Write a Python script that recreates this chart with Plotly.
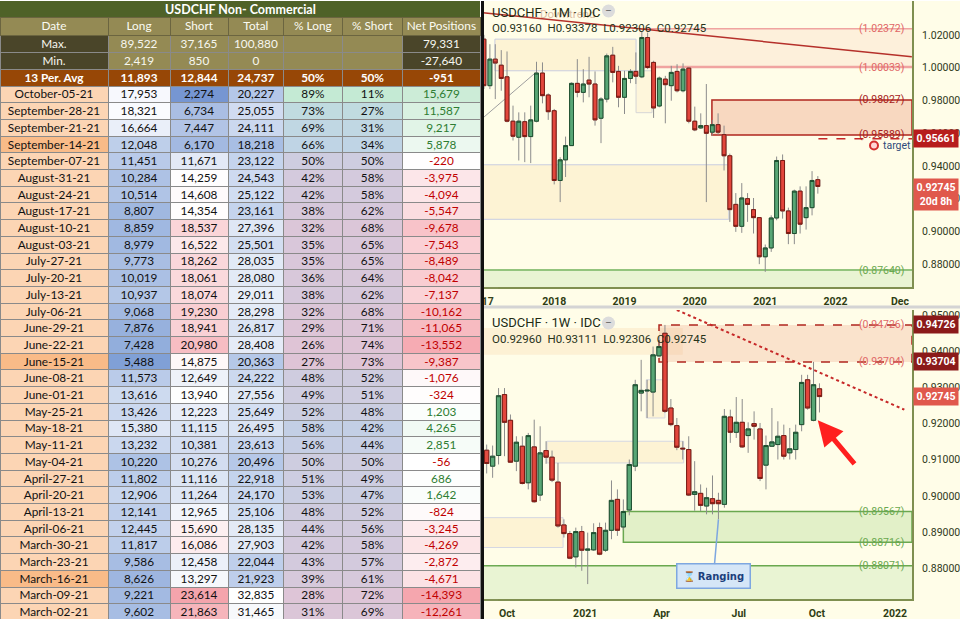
import plotly.graph_objects as go

W, H = 960, 620

# ================= COT table data =================
TABLE_TITLE = "USDCHF Non- Commercial"
COLUMNS = ["Date", "Long", "Short", "Total", "% Long", "% Short", "Net Positions"]
max_values = [89522, 37165, 100880, None, None, 79331]
min_values = [2419, 850, 0, None, None, -27640]
avg_label = "13 Per. Avg"
avg_values = [11893, 12844, 24737, 50, 50, -951]

report_dates = [
    "October-05-21", "September-28-21", "September-21-21", "September-14-21", "September-07-21",
    "August-31-21", "August-24-21", "August-17-21", "August-10-21", "August-03-21",
    "July-27-21", "July-20-21", "July-13-21", "July-06-21", "June-29-21", "June-22-21", "June-15-21",
    "June-08-21", "June-01-21", "May-25-21", "May-18-21", "May-11-21", "May-04-21",
    "April-27-21", "April-20-21", "April-13-21", "April-06-21",
    "March-30-21", "March-23-21", "March-16-21", "March-09-21", "March-02-21"]
long_pos = [17953, 18321, 16664, 12048, 11451, 10284, 10514, 8807, 8859, 8979,
            9773, 10019, 10937, 9068, 7876, 7428, 5488, 11573, 13616, 13426, 15380, 13232, 10220,
            11802, 12906, 12141, 12445, 11817, 9586, 8626, 9221, 9602]
short_pos = [2274, 6734, 7447, 6170, 11671, 14259, 14608, 14354, 18537, 16522,
             18262, 18061, 18074, 19230, 18941, 20980, 14875, 12649, 13940, 12223, 11115, 10381, 10276,
             11116, 11264, 12965, 15690, 16086, 12458, 13297, 23614, 21863]
total_pos = [20227, 25055, 24111, 18218, 23122, 24543, 25122, 23161, 27396, 25501,
             28035, 28080, 29011, 28298, 26817, 28408, 20363, 24222, 27556, 25649, 26495, 23613, 20496,
             22918, 24170, 25106, 28135, 27903, 22044, 21923, 32835, 31465]
pct_long = [89, 73, 69, 66, 50, 42, 42, 38, 32, 35, 35, 36, 38, 32, 29, 26, 27, 48, 49, 52, 58, 56, 50,
            51, 53, 48, 44, 42, 43, 39, 28, 31]
pct_short = [11, 27, 31, 34, 50, 58, 58, 62, 68, 65, 65, 64, 62, 68, 71, 74, 73, 52, 51, 48, 42, 44, 50,
             49, 47, 52, 56, 58, 57, 61, 72, 69]
net_pos = [15679, 11587, 9217, 5878, -220, -3975, -4094, -5547, -9678, -7543,
           -8489, -8042, -7137, -10162, -11065, -13552, -9387, -1076, -324, 1203, 4265, 2851, -56,
           686, 1642, -824, -3245, -4269, -2872, -4671, -14393, -12261]
highlight_dates = ["September-14-21", "June-15-21", "March-16-21"]

# ================= USDCHF monthly candles (1M) =================
month_dates = [f"{y}-{m:02d}-01" for y in range(2017, 2022) for m in range(1, 13)][:58]
m_open = [1.0174, 0.9890, 1.0052, 1.0015, 0.9944, 0.9673, 0.9575, 0.9670, 0.9579, 0.9673, 0.9967, 0.9833,
          0.9737, 0.9311, 0.9437, 0.9524, 0.9904, 0.9849, 0.9924, 0.9900, 0.9691, 0.9808, 1.0076, 0.9977,
          0.9819, 0.9934, 0.9977, 0.9944, 1.0184, 1.0032, 0.9766, 0.9930, 0.9890, 0.9977, 0.9859, 0.9997,
          0.9673, 0.9632, 0.9646, 0.9606, 0.9652, 0.9591, 0.9462, 0.9165, 0.9031, 0.9200, 0.9133, 0.9084,
          0.8845, 0.8899, 0.9082, 0.9433, 0.9125, 0.8987, 0.9246, 0.9084, 0.9145, 0.93160]
m_high = [1.0200, 1.0143, 1.0143, 1.0107, 1.0099, 0.9768, 0.9727, 0.9727, 0.9768, 1.0036, 1.0032, 0.9843,
          0.9748, 0.9453, 0.9579, 0.9910, 1.0052, 0.9991, 1.0066, 0.9977, 0.9819, 1.0086, 1.0127, 1.0011,
          0.9981, 0.9991, 1.0093, 1.0220, 1.0214, 1.0042, 0.9946, 0.9950, 1.0011, 1.0021, 1.0026, 1.0001,
          0.9762, 0.9721, 0.9900, 0.9681, 0.9721, 0.9646, 0.9475, 0.9234, 0.9295, 0.9234, 0.9204, 0.9088,
          0.8920, 0.9098, 0.9457, 0.9470, 0.9145, 0.9255, 0.9275, 0.9275, 0.9368, 0.93378]
m_low = [0.9870, 0.9869, 0.9808, 0.9859, 0.9666, 0.9555, 0.9433, 0.9423, 0.9417, 0.9666, 0.9782, 0.9681,
         0.9287, 0.9179, 0.9332, 0.9524, 0.9819, 0.9788, 0.9819, 0.9646, 0.9539, 0.9788, 0.9910, 0.9758,
         0.9717, 0.9905, 0.9900, 0.9936, 0.9991, 0.9693, 0.9758, 0.9660, 0.9798, 0.9849, 0.9849, 0.9660,
         0.9612, 0.9626, 0.9179, 0.9585, 0.9591, 0.9372, 0.9058, 0.8997, 0.8991, 0.9058, 0.8987, 0.8800,
         0.8753, 0.8875, 0.9068, 0.9078, 0.8922, 0.8922, 0.8987, 0.9011, 0.9098, 0.92306]
m_close = [0.9890, 1.0052, 1.0028, 0.9934, 0.9673, 0.9581, 0.9673, 0.9579, 0.9681, 0.9967, 0.9829, 0.9731,
           0.9311, 0.9437, 0.9524, 0.9904, 0.9849, 0.9900, 0.9900, 0.9681, 0.9808, 1.0072, 0.9971, 0.9819,
           0.9934, 0.9977, 0.9948, 1.0184, 1.0001, 0.9754, 0.9936, 0.9896, 0.9971, 0.9859, 0.9991, 0.9673,
           0.9620, 0.9646, 0.9599, 0.9652, 0.9606, 0.9462, 0.9133, 0.9031, 0.9204, 0.9165, 0.9084, 0.8845,
           0.8899, 0.9082, 0.9433, 0.9125, 0.8987, 0.9246, 0.9044, 0.9145, 0.9311, 0.92745]

# ================= USDCHF weekly candles (1W) =================
week_dates = ["2020-09-07", "2020-09-14", "2020-09-21", "2020-09-28", "2020-10-05", "2020-10-12",
              "2020-10-19", "2020-10-26", "2020-11-02", "2020-11-09", "2020-11-16", "2020-11-23",
              "2020-11-30", "2020-12-07", "2020-12-14", "2020-12-21", "2020-12-28", "2021-01-04",
              "2021-01-11", "2021-01-18", "2021-01-25", "2021-02-01", "2021-02-08", "2021-02-15",
              "2021-02-22", "2021-03-01", "2021-03-08", "2021-03-15", "2021-03-22", "2021-03-29",
              "2021-04-05", "2021-04-12", "2021-04-19", "2021-04-26", "2021-05-03", "2021-05-10",
              "2021-05-17", "2021-05-24", "2021-05-31", "2021-06-07", "2021-06-14", "2021-06-21",
              "2021-06-28", "2021-07-05", "2021-07-12", "2021-07-19", "2021-07-26", "2021-08-02",
              "2021-08-09", "2021-08-16", "2021-08-23", "2021-08-30", "2021-09-06", "2021-09-13",
              "2021-09-20", "2021-09-27", "2021-10-04"]
w_open = [0.91262, 0.90822, 0.91116, 0.92800, 0.92089, 0.90960, 0.91373, 0.90363, 0.91354, 0.90023,
          0.91253, 0.91070, 0.90381, 0.89197, 0.88958, 0.88315, 0.89013, 0.88499, 0.88508, 0.89123,
          0.88499, 0.89049, 0.89903, 0.89141, 0.89610, 0.90822, 0.92842, 0.92900, 0.92870, 0.93870,
          0.94495, 0.92429, 0.91942, 0.91318, 0.91281, 0.90041, 0.90070, 0.89720, 0.89922, 0.89876,
          0.89766, 0.92181, 0.91758, 0.92034, 0.91667, 0.91997, 0.91850, 0.90850, 0.91373, 0.91419,
          0.91667, 0.91190, 0.91281, 0.91970, 0.93209, 0.92089, 0.92960]
w_high = [0.91419, 0.91391, 0.92980, 0.92980, 0.92250, 0.91648, 0.91648, 0.91740, 0.92107, 0.91924,
          0.91511, 0.91253, 0.90914, 0.89352, 0.89031, 0.89123, 0.89169, 0.88985, 0.89242, 0.89261,
          0.89261, 0.90427, 0.90179, 0.89903, 0.91005, 0.93209, 0.93760, 0.93209, 0.94128, 0.94403,
          0.94726, 0.92677, 0.92153, 0.91511, 0.91648, 0.90960, 0.90317, 0.90225, 0.90565, 0.90087,
          0.92401, 0.92383, 0.92732, 0.92677, 0.92034, 0.92337, 0.92015, 0.91667, 0.92429, 0.92062,
          0.91970, 0.91878, 0.91970, 0.93347, 0.93347, 0.93704, 0.93111]
w_low = [0.90620, 0.90500, 0.90868, 0.91097, 0.90914, 0.90684, 0.90317, 0.90180, 0.89812, 0.89858,
         0.90886, 0.90381, 0.89123, 0.88848, 0.88251, 0.88021, 0.87929, 0.87562, 0.88480, 0.88361,
         0.88453, 0.88802, 0.88894, 0.89050, 0.89463, 0.90684, 0.92337, 0.92153, 0.92199, 0.93834,
         0.92291, 0.91924, 0.91263, 0.91005, 0.89995, 0.89590, 0.89582, 0.89490, 0.89490, 0.89352,
         0.89674, 0.91465, 0.91602, 0.91327, 0.91190, 0.91556, 0.90409, 0.90180, 0.91354, 0.91005,
         0.91005, 0.91005, 0.91005, 0.91786, 0.92383, 0.92062, 0.92306]
w_close = [0.90895, 0.91097, 0.92769, 0.92034, 0.90932, 0.91483, 0.90344, 0.91666, 0.89839, 0.91189,
           0.91070, 0.90436, 0.89169, 0.88958, 0.88278, 0.89013, 0.88499, 0.88527, 0.88985, 0.88389,
           0.89049, 0.89876, 0.89049, 0.89567, 0.90868, 0.93072, 0.92916, 0.92920, 0.93898, 0.94128,
           0.92337, 0.91970, 0.91345, 0.91300, 0.90023, 0.90115, 0.89738, 0.89950, 0.89784, 0.89784,
           0.92199, 0.91758, 0.92034, 0.91354, 0.91850, 0.91924, 0.90482, 0.91391, 0.91492, 0.91648,
           0.91097, 0.91300, 0.91758, 0.93136, 0.92429, 0.93072, 0.92745]

# chart levels / labels
m_levels = {"top_zone_hi": 1.02372, "top_zone_lo": 1.00033, "res_hi": 0.98027, "res_lo": 0.95889,
            "target": 0.95661, "support": 0.87640}
w_levels = {"res_hi": 0.94726, "res_lo": 0.93704, "sup_hi": 0.89567, "sup_lo": 0.88716, "support": 0.88071}
last_price = 0.92745
m_ohlc_text = ["O0.93160", "H0.93378", "L0.92306", "C0.92745"]
w_ohlc_text = ["O0.92960", "H0.93111", "L0.92306", "C0.92745"]
m_tick_dates = ["2017-01-21", "2018-01-01", "2019-01-01", "2020-01-01", "2021-01-01", "2022-01-01", "2022-12-01"]
m_tick_text = ["17", "2018", "2019", "2020", "2021", "2022", "Dec"]
w_tick_dates = ["2020-10-01", "2021-01-01", "2021-04-01", "2021-07-01", "2021-10-01", "2022-01-01"]
w_tick_text = ["Oct", "2021", "Apr", "Jul", "Oct", "2022"]
m_price_ticks = [0.88, 0.90, 0.92, 0.94, 0.96, 0.98, 1.00, 1.02, 1.04]
w_price_ticks = [0.88, 0.89, 0.90, 0.91, 0.92, 0.93, 0.94, 0.95]

# ================= helpers =================
def px(x):
    return x / W


def py(y):
    return 1 - y / H


def mix(c1, c2, t):
    t = max(0.0, min(1.0, t))
    return "rgb(%d,%d,%d)" % tuple(round(a + (b - a) * t) for a, b in zip(c1, c2))


def scale(v, stops):
    if v <= stops[0][0]:
        return mix(stops[0][1], stops[0][1], 0)
    for (v0, c0), (v1, c1) in zip(stops, stops[1:]):
        if v <= v1:
            return mix(c0, c1, (v - v0) / (v1 - v0))
    return mix(stops[-1][1], stops[-1][1], 0)


def fnum(v):
    return "" if v is None else f"{v:,}"


NBSP = "\u00a0"


def nb(s):
    return s.replace(" ", NBSP)


# ================= table styling =================
DARK = "#4a4529"
TAN = "#948a54"
AVG = "#974706"
PEACH = "#fcd5b4"
PEACH_HI = "#f9bb88"

WHITE = (255, 255, 255)
sorted_short = sorted(short_pos)
short_mid = (sorted_short[15] + sorted_short[16]) / 2
long_stops = [(min(long_pos), (128, 160, 214)), (max(long_pos), (250, 251, 254))]
short_stops = [(min(short_pos), (118, 150, 210)), (short_mid, WHITE), (max(short_pos), (244, 164, 172))]
total_stops = [(min(total_pos), (168, 190, 228)), (max(total_pos), WHITE)]
pct_stops = [(26, (223, 196, 214)), (50, (206, 205, 224)), (62, (190, 208, 232)), (89, (196, 234, 212))]
net_stops = [(min(net_pos), (245, 166, 174)), (0, WHITE), (max(net_pos), (204, 236, 215))]

avg_texts = [nb(avg_label), fnum(avg_values[0]), fnum(avg_values[1]), fnum(avg_values[2]),
             f"{avg_values[3]}%", f"{avg_values[4]}%", fnum(avg_values[5])]
col_vals = [
    ["Max.", "Min.", ""] + report_dates,
    [fnum(max_values[0]), fnum(min_values[0]), ""] + [fnum(v) for v in long_pos],
    [fnum(max_values[1]), fnum(min_values[1]), ""] + [fnum(v) for v in short_pos],
    [fnum(max_values[2]), fnum(min_values[2]), ""] + [fnum(v) for v in total_pos],
    ["", "", ""] + [f"{v}%" for v in pct_long],
    ["", "", ""] + [f"{v}%" for v in pct_short],
    [fnum(max_values[5]), fnum(min_values[5]), ""] + [fnum(v) for v in net_pos],
]
n_rows = len(col_vals[0])
avg_vals = [["", "", t] + [""] * len(report_dates) for t in avg_texts]

pct_colors = [scale(v, pct_stops) for v in pct_long]
col_fill = [
    [DARK, DARK, AVG] + [PEACH_HI if d in highlight_dates else PEACH for d in report_dates],
    [TAN, TAN, AVG] + [scale(v, long_stops) for v in long_pos],
    [TAN, TAN, AVG] + [scale(v, short_stops) for v in short_pos],
    [TAN, TAN, AVG] + [scale(v, total_stops) for v in total_pos],
    [TAN, TAN, AVG] + pct_colors,
    [TAN, TAN, AVG] + pct_colors,
    [DARK, DARK, AVG] + [scale(v, net_stops) for v in net_pos],
]
head_font = ["#f7f7f0"] * 3
col_font = [head_font + ["#111111"] * len(report_dates) for _ in range(6)]
col_font.append(head_font + ["#2e7d32" if v > 0 else "#c00000" for v in net_pos])

col_widths = [108, 62, 58, 55.7, 58.3, 60.7, 77.3]
TFONT = "Lato"
TSIZE = 11.8
HEAD_H, ROW_H = 18, 16.7
TXT_SHIFT = 4.5   # lift text so it sits centred in each row
CLEAR = "rgba(0,0,0,0)"

fig = go.Figure()

# cell fills and grid
fig.add_trace(go.Table(
    domain=dict(x=[0, px(480)], y=[0, py(17)]),
    columnwidth=col_widths,
    header=dict(values=[""] * 7, fill=dict(color=TAN), height=HEAD_H,
                line=dict(color="#6b6540", width=1)),
    cells=dict(values=[[""] * n_rows for _ in range(7)], fill=dict(color=col_fill), height=ROW_H,
               line=dict(color="#8a8a8a", width=1)),
))
# cell texts (regular)
txt_domain = dict(x=[0, px(480)], y=[0, py(17 - TXT_SHIFT)])
fig.add_trace(go.Table(
    domain=txt_domain, columnwidth=col_widths,
    header=dict(values=[nb(c) for c in COLUMNS], fill=dict(color=CLEAR), height=HEAD_H,
                line=dict(color=CLEAR, width=0),
                font=dict(family=TFONT, size=TSIZE, color="#fbfbf2"), align="center"),
    cells=dict(values=col_vals, fill=dict(color=CLEAR), height=ROW_H,
               line=dict(color=CLEAR, width=0),
               font=dict(family=TFONT, size=TSIZE, color=col_font), align="center"),
))
# cell texts (bold average row)
fig.add_trace(go.Table(
    domain=txt_domain, columnwidth=col_widths,
    header=dict(values=[""] * 7, fill=dict(color=CLEAR), height=HEAD_H, line=dict(color=CLEAR, width=0)),
    cells=dict(values=avg_vals, fill=dict(color=CLEAR), height=ROW_H,
               line=dict(color=CLEAR, width=0),
               font=dict(family=TFONT, size=TSIZE, color="white", weight="bold"), align="center"),
))

# ================= candlesticks =================
UP, UP_EDGE = "#58a675", "#1d4f2f"
DN, DN_EDGE = "#e2463c", "#7a1a12"
WICK = "#8c8c8c"


def add_candles(x, o, h, l, c, xa, ya):
    hi_body = [max(a, z) for a, z in zip(o, c)]
    lo_body = [min(a, z) for a, z in zip(o, c)]
    fig.add_trace(go.Candlestick(
        x=x, open=o, high=h, low=l, close=c, xaxis=xa, yaxis=ya,
        increasing=dict(line=dict(color=WICK, width=1), fillcolor=UP),
        decreasing=dict(line=dict(color=WICK, width=1), fillcolor=DN),
        hoverinfo="skip", showlegend=False))
    fig.add_trace(go.Candlestick(
        x=x, open=o, high=hi_body, low=lo_body, close=c, xaxis=xa, yaxis=ya,
        increasing=dict(line=dict(color=UP_EDGE, width=1), fillcolor=UP),
        decreasing=dict(line=dict(color=DN_EDGE, width=1), fillcolor=DN),
        hoverinfo="skip", showlegend=False))


add_candles(month_dates, m_open, m_high, m_low, m_close, "x", "y")
add_candles(week_dates, w_open, w_high, w_low, w_close, "x2", "y2")

M_X0, M_X1 = "2016-12-22", "2023-02-02"
W_X0, W_X1 = "2020-09-01 12:00", "2022-01-21"

shapes = []


def rect(xr, yr, x0, x1, y0, y1, fill, line="rgba(0,0,0,0)", lw=0, dash="solid", layer="below"):
    shapes.append(dict(type="rect", xref=xr, yref=yr, x0=x0, x1=x1, y0=y0, y1=y1, fillcolor=fill,
                       line=dict(color=line, width=lw, dash=dash), layer=layer))


def seg(xr, yr, x0, y0, x1, y1, color, width, dash="solid", layer="below"):
    shapes.append(dict(type="line", xref=xr, yref=yr, x0=x0, y0=y0, x1=x1, y1=y1,
                       line=dict(color=color, width=width, dash=dash), layer=layer))


CREAM = "#fffde8"
rect("paper", "paper", px(482), 1, 0, 1, CREAM)
# table title banner
rect("paper", "paper", 0, px(480), py(17), 1, "#4f6228")

PALE = "rgba(250,226,178,0.38)"
GREYLINE = "#c9cde0"
# ---- monthly drawings
rect("x", "y", "2017-02-27", "2019-03-02", 0.99809, 1.0174, PALE, GREYLINE, 1)
rect("x", "y", "2019-03-02", "2019-05-24", 0.9725, 0.99809, "rgba(250,226,178,0.25)", "#d6d6d6", 1)
rect("x", "y", "2016-12-01", "2020-06-26", 0.90739, 0.94069, PALE, GREYLINE, 1)
rect("x", "y", "2019-03-18", M_X1, m_levels["top_zone_lo"], m_levels["top_zone_hi"], "rgba(250,214,192,0.32)")
seg("x", "y", "2019-03-18", m_levels["top_zone_hi"], M_X1, m_levels["top_zone_hi"], "#f0a3a0", 1.5)
seg("x", "y", "2019-04-10", m_levels["top_zone_lo"], M_X1, m_levels["top_zone_lo"], "#f0a3a0", 2.5)
rect("x", "y", "2020-03-30", M_X1, m_levels["res_lo"], m_levels["res_hi"], "rgba(232,140,110,0.32)", "#b0261e", 1.5)
seg("x", "y", "2021-10-04", m_levels["target"], M_X1, m_levels["target"], "#c62828", 1.5, "dash")
seg("x", "y", "2016-12-27", 1.0336, "2023-02-01", 1.0066, "#b5302a", 1.5)
seg("x", "y", "2016-12-27", 0.9693, "2017-09-21", 0.9964, "#9e9e9e", 1)
rect("x", "y", "2016-12-01", M_X1, 0.85, m_levels["support"], "rgba(206,232,186,0.45)")
seg("x", "y", "2016-12-01", m_levels["support"], M_X1, m_levels["support"], "#93c47d", 2)

# ---- weekly drawings
rect("x2", "y2", "2020-08-20", "2021-04-26", 0.93898, 0.94642, "rgba(252,236,205,0.75)")
rect("x2", "y2", "2020-11-17", "2021-04-27", 0.9091, 0.9151, PALE, "#d5d7e2", 1)
rect("x2", "y2", "2021-03-14", "2021-04-05", 0.92153, 0.93209, PALE, "#d5d7e2", 1)
rect("x2", "y2", "2020-08-01", "2020-12-06", 0.88573, 0.89399, PALE, "#d5d7e2", 1)
rect("x2", "y2", "2021-03-29", W_X1, w_levels["res_lo"], w_levels["res_hi"], "rgba(240,168,140,0.30)",
     "#b0261e", 1.5, "dash")
seg("x2", "y2", "2021-04-19", 0.95138, "2022-01-12", 0.92383, "#c62828", 2, "dot")
rect("x2", "y2", "2021-02-15", W_X1, w_levels["sup_lo"], w_levels["sup_hi"], "rgba(186,222,154,0.42)",
     "#6aa84f", 1.5)
rect("x2", "y2", "2020-08-01", W_X1, 0.86, w_levels["support"], "rgba(206,232,186,0.45)")
seg("x2", "y2", "2020-08-01", w_levels["support"], W_X1, w_levels["support"], "#6aa84f", 1.5)

# frame lines
seg("paper", "paper", px(482), py(307), 1, py(307), "#d4d4d4", 3, layer="above")
seg("paper", "paper", px(482.5), 0, px(482.5), 1, "#111111", 3, layer="above")
# collapse buttons
for yc in (10, 323):
    shapes.append(dict(type="circle", xref="paper", yref="paper", x0=px(602), x1=px(615),
                       y0=py(yc + 6.5), y1=py(yc - 6.5), fillcolor="#dcdcdc",
                       line=dict(width=0), layer="above"))
shapes.append(dict(type="circle", xref="paper", yref="paper", x0=px(870), x1=px(878),
                   y0=py(149), y1=py(141), fillcolor="#ffd6d6", line=dict(color="#d32f2f", width=2),
                   layer="above"))

ann = []
AF = "Roboto"


def label(text, x, y, yref, color, size=10.5, xanchor="right", **kw):
    ann.append(dict(text=text, x=x, y=y, xref="paper", yref=yref, showarrow=False,
                    xanchor=xanchor, yanchor="middle", font=dict(family=AF, size=size, color=color), **kw))


def tag(text, y, yref, bg, yanchor="middle", yshift=0):
    ann.append(dict(text=text, x=px(913), y=y, xref="paper", yref=yref, showarrow=False,
                    xanchor="left", yanchor=yanchor, yshift=yshift, bgcolor=bg, borderpad=2, width=40,
                    align="center", font=dict(family=AF, size=10.5, color="white", weight="bold")))


NB2 = NBSP * 2
# table banner text
ann.append(dict(text=f"<b>{TABLE_TITLE}</b>", x=px(240), y=py(8.5), xref="paper", yref="paper",
                showarrow=False, xanchor="center", yanchor="middle",
                font=dict(family=TFONT, size=12.5, color="white")))
# titles
label("Downtrend", px(538), py(13), "paper", "rgba(196,146,116,0.6)", 11.5, "left")
label("USDCHF · 1M · IDC", px(490), py(12), "paper", "#222b14", 13, "left")
label(NB2.join(m_ohlc_text), px(490), py(27), "paper", "#27331a", 11.5, "left")
label("−", px(608.5), py(10), "paper", "#6f6f6f", 12, "center")
label("USDCHF · 1W · IDC", px(490), py(323), "paper", "#222b14", 13, "left")
label(NB2.join(w_ohlc_text), px(490), py(339), "paper", "#27331a", 11.5, "left")
label("−", px(608.5), py(323), "paper", "#6f6f6f", 12, "center")

# level labels
LX = px(906)
label(f"({m_levels['top_zone_hi']:.5f})", LX, m_levels["top_zone_hi"], "y", "#e06666")
label(f"({m_levels['top_zone_lo']:.5f})", LX, m_levels["top_zone_lo"], "y", "#e06666")
label(f"({m_levels['res_hi']:.5f})", LX, m_levels["res_hi"], "y", "#a61c1c")
label(f"({m_levels['res_lo']:.5f})", LX, m_levels["res_lo"], "y", "#a61c1c")
label(f"({m_levels['support']:.5f})", LX, m_levels["support"], "y", "#6aa84f")
label("target", px(881), 0.9525, "y", "#2f4a7a", 10.5, "left")
for k in ("res_hi", "res_lo"):
    label(f"({w_levels[k]:.5f})", LX, w_levels[k], "y2", "#e06666")
for k in ("sup_hi", "sup_lo", "support"):
    label(f"({w_levels[k]:.5f})", LX, w_levels[k], "y2", "#6aa84f")

# axis price tags
tag(f"{m_levels['target']:.5f}", m_levels["target"], "y", "#b71c1c")
tag(f"{last_price:.5f}<br>20d 8h", last_price, "y", "#e0584c", "top", 8)
tag(f"{w_levels['res_hi']:.5f}", w_levels["res_hi"], "y2", "#8b1a1a")
tag(f"{w_levels['res_lo']:.5f}", w_levels["res_lo"], "y2", "#8b1a1a")
tag(f"{last_price:.5f}", last_price, "y2", "#e0584c")

# callouts
ann.append(dict(text="<span style='color:#e69138'>⌛</span> <b>Ranging</b>", x="2021-06-07", y=0.8935,
                xref="x2", yref="y2", ax=-5, ay=57, showarrow=True, arrowhead=0, arrowwidth=1.5,
                arrowcolor="#7ea7e0", bgcolor="#d5e6f7", bordercolor="#7ea7e0", borderwidth=1.5,
                borderpad=5, font=dict(family="DejaVu Sans", size=10, color="#1c3f7c")))
ann.append(dict(text="", x="2021-10-02", y=0.9209, xref="x2", yref="y2", ax=38, ay=45,
                showarrow=True, arrowhead=2, arrowsize=1, arrowwidth=5, arrowcolor="#ff1f1f"))

AXC = "#7f8f50"
xfont = dict(family=AF, size=10.5, color="#2f3d14", weight="bold")
yfont = dict(family=AF, size=10.5, color="#2f3a1a")
common_x = dict(type="date", showgrid=False, zeroline=False, showline=True, linecolor=AXC, linewidth=2,
                ticks="", tickfont=xfont, ticklabelstandoff=3, rangeslider=dict(visible=False),
                fixedrange=True)
common_y = dict(side="right", showgrid=False, zeroline=False, showline=True, linecolor=AXC, linewidth=2,
                ticks="", tickformat=".5f", tickfont=yfont, ticklabelstandoff=6, fixedrange=True)

fig.update_layout(
    width=W, height=H, margin=dict(l=0, r=0, t=0, b=0),
    paper_bgcolor="white", plot_bgcolor="rgba(0,0,0,0)", showlegend=False, hovermode=False,
    boxgap=0.15, boxgroupgap=0.15,
    xaxis=dict(common_x, domain=[px(482), px(912)], anchor="y", range=[M_X0, M_X1],
               tickvals=m_tick_dates, ticktext=m_tick_text),
    yaxis=dict(common_y, domain=[py(287), 1], anchor="x", range=[0.8660, 1.0407], tickvals=m_price_ticks),
    xaxis2=dict(common_x, domain=[px(482), px(912)], anchor="y2", range=[W_X0, W_X1],
                tickvals=w_tick_dates, ticktext=w_tick_text),
    yaxis2=dict(common_y, domain=[py(600), py(310)], anchor="x2", range=[0.87148, 0.95138],
                tickvals=w_price_ticks),
    shapes=shapes, annotations=ann,
)

fig.write_html("out.html", config={"displayModeBar": False},
               post_script="document.body.style.margin='0px';document.body.style.overflow='hidden';")
